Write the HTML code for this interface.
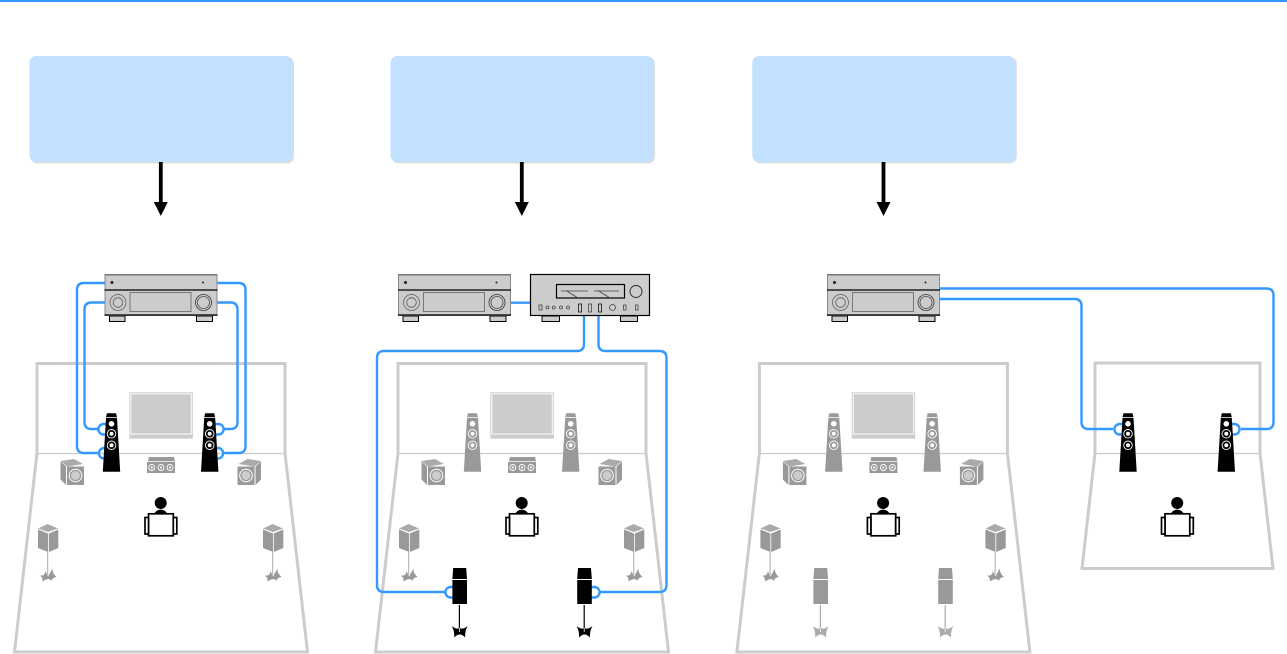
<!DOCTYPE html>
<html><head><meta charset="utf-8"><style>
html,body{margin:0;padding:0;background:#fff;width:1287px;height:654px;overflow:hidden}
svg{display:block}
</style></head><body>
<svg width="1287" height="654" viewBox="0 0 1287 654" xmlns="http://www.w3.org/2000/svg">
<defs>
<g id="box">
<rect x="1" y="1" width="263.500" height="106.500" rx="7" fill="#ddd"/>
<rect x="0" y="0" width="263" height="106" rx="7" fill="#c2e0ff"/>
</g>
<g id="arrow">
<rect x="-1.900" y="0" width="3.800" height="42" fill="#000"/>
<polygon points="-7,40 7,40 0,54" fill="#000"/>
</g>
<g id="rcv">
<rect x="5" y="42" width="15.500" height="5.500" fill="#ccc" stroke="#000" stroke-width="1"/>
<rect x="92" y="42" width="16" height="5.500" fill="#ccc" stroke="#000" stroke-width="1"/>
<rect x="0.500" y="0.500" width="112" height="41" fill="#ccc" stroke="#888" stroke-width="1"/>
<rect x="0" y="0" width="113" height="1.500" fill="#777"/>
<line x1="0" y1="16" x2="113" y2="16" stroke="#000" stroke-width="1.200"/>
<line x1="0" y1="41" x2="113" y2="41" stroke="#000" stroke-width="1.300"/>
<circle cx="13.500" cy="28.500" r="8" fill="none" stroke="#555" stroke-width=".7"/>
<circle cx="13.500" cy="28.500" r="4.800" fill="none" stroke="#555" stroke-width=".8"/>
<circle cx="99" cy="28.500" r="8" fill="none" stroke="#333" stroke-width=".8"/>
<circle cx="99" cy="28.500" r="6" fill="none" stroke="#444" stroke-width=".8"/>
<rect x="25.500" y="18.500" width="61" height="19" fill="#ccc" stroke="#777" stroke-width="1"/>
<circle cx="7.500" cy="8.500" r="1.500" fill="#222"/>
<circle cx="98.500" cy="8.500" r="1" fill="#222"/>
</g>
<g id="room">
<path d="M37 453V363.500H285V453L307.500 652H14.500Z" fill="none" stroke="#ccc" stroke-width="3"/>
<line x1="37" y1="453.500" x2="285" y2="453.500" stroke="#ccc" stroke-width="1.300"/>
<rect x="129.300" y="392.300" width="63.500" height="46.400" fill="#ccc"/>
<rect x="130.800" y="393.800" width="60.500" height="40.300" fill="#ccc" stroke="#fff" stroke-width="1"/>
<use href="#center"/>
<use href="#sub"/>
<use href="#sub" transform="translate(321.500 0) scale(-1 1)"/>
<use href="#surr" x="48"/>
<use href="#surr" x="273"/>
<use href="#listener"/>
</g>
<g id="center">
<polygon points="149,457 174,457 175,461.300 148,461.300" fill="#999"/>
<rect x="147" y="462" width="28" height="11" fill="#999"/>
<circle cx="151.800" cy="467.500" r="3" fill="none" stroke="#fff" stroke-width=".9"/>
<circle cx="161" cy="467.500" r="3" fill="none" stroke="#fff" stroke-width=".9"/>
<circle cx="170" cy="467.500" r="3" fill="none" stroke="#fff" stroke-width=".9"/>
<circle cx="151.800" cy="467.500" r="1.100" fill="#fff"/>
<circle cx="161" cy="467.500" r="1.100" fill="#fff"/>
<circle cx="170" cy="467.500" r="1.100" fill="#fff"/>
</g>
<g id="sub">
<polygon points="60.500,461 74,459 83,464 67,466.500" fill="#aaa"/>
<polygon points="60.500,461.500 66,466.500 66,485 60.500,479.500" fill="#999"/>
<rect x="67" y="466.500" width="17" height="18.500" fill="#999"/>
<circle cx="75.500" cy="475.500" r="6.300" fill="none" stroke="#fff" stroke-width="1"/>
<circle cx="75.500" cy="475.500" r="4.500" fill="#ccc"/>
</g>
<g id="surr">
<polygon points="-10,4.500 -0.500,0 10,4.500 0,8" fill="#aaa" transform="translate(0 524)"/>
<polygon points="-10,5.500 0,9.500 0,28 -10,24" fill="#999" transform="translate(0 524)"/>
<polygon points="0.800,9.500 10.300,5.500 10.300,24 0.800,28" fill="#999" transform="translate(0 524)"/>
<line x1="-0.300" y1="552" x2="-0.300" y2="575" stroke="#aaa" stroke-width="1"/>
<path d="M-8.500 575.500Q-3 576.500 -2.500 571L0 576.500L4.500 568.500Q4 573 8.500 577Q4 577.500 3.500 581Q1 577 -5.500 581.500Q-5 577 -8.500 575.500Z" fill="#999"/>
</g>
<g id="listener">
<circle cx="160.700" cy="503" r="6" fill="#000"/>
<path d="M154 514 Q156 510 160.700 509.500 Q165.500 510 167.500 514Z" fill="#000"/>
<rect x="148.500" y="513.800" width="24.800" height="22" fill="#fff" stroke="#000" stroke-width="1.700"/>
<rect x="145" y="517.500" width="3.500" height="16.500" fill="#fff" stroke="#000" stroke-width="1.700"/>
<rect x="173.300" y="517.500" width="3.500" height="16.500" fill="#fff" stroke="#000" stroke-width="1.700"/>
</g>
<g id="towerB">
<polygon points="-4.500,0 4.500,0 5.500,4 -5.500,4" fill="#000"/>
<polygon points="-5.500,4.700 5.500,4.700 8.700,58.500 -8.700,58.500" fill="#000"/>
<circle cx="0" cy="10.500" r="2.800" fill="#fff"/>
<circle cx="0" cy="20.500" r="4.300" fill="none" stroke="#fff" stroke-width=".9"/>
<circle cx="0" cy="20.500" r="2" fill="#fff"/>
<circle cx="0" cy="32" r="4.300" fill="none" stroke="#fff" stroke-width=".9"/>
<circle cx="0" cy="32" r="2" fill="#fff"/>
</g>
<g id="towerG">
<polygon points="-4.500,0 4.500,0 5.500,4 -5.500,4" fill="#999"/>
<polygon points="-5.500,4.700 5.500,4.700 8.700,58.500 -8.700,58.500" fill="#999"/>
<circle cx="0" cy="10.500" r="2.800" fill="#fff"/>
<circle cx="0" cy="20.500" r="4.300" fill="none" stroke="#fff" stroke-width=".9"/>
<circle cx="0" cy="20.500" r="2" fill="#fff"/>
<circle cx="0" cy="32" r="4.300" fill="none" stroke="#fff" stroke-width=".9"/>
<circle cx="0" cy="32" r="2" fill="#fff"/>
</g>
<path id="star" d="M-8 58Q-3 62 0 60Q3 62 8 58Q5 63 5.500 69.500Q2 66 0 66.500Q-2 66 -5.500 69.500Q-5 63 -8 58Z"/>
<g id="presB">
<polygon points="-6.500,0 6.500,0 7.300,11 -7.300,11" fill="#000"/>
<rect x="-7.300" y="12" width="14.600" height="24" fill="#000"/>
<use href="#star" fill="#000"/>
<line x1="-0.300" y1="37" x2="-0.300" y2="64" stroke="#000" stroke-width="1.200"/>
<line x1="-0.300" y1="60" x2="-0.300" y2="64" stroke="#fff" stroke-width=".8"/>
</g>
<g id="presG">
<polygon points="-6.500,0 6.500,0 7.300,11 -7.300,11" fill="#999"/>
<rect x="-7.300" y="12" width="14.600" height="24" fill="#999"/>
<use href="#star" fill="#aaa"/>
<line x1="-0.300" y1="37" x2="-0.300" y2="64" stroke="#aaa" stroke-width="1.200"/>
<line x1="-0.300" y1="60" x2="-0.300" y2="64" stroke="#fff" stroke-width=".8"/>
</g>
</defs>

<rect x="0" y="0" width="1287" height="2" fill="#3399ff"/>

<use href="#box" x="29.500" y="56"/>
<use href="#box" x="390.500" y="56"/>
<use href="#box" x="752.300" y="56"/>
<use href="#arrow" x="160.800" y="162"/>
<use href="#arrow" x="521.800" y="162"/>
<use href="#arrow" x="883.500" y="162"/>

<!-- Rooms -->
<use href="#room"/>
<use href="#room" x="361"/>
<use href="#room" x="722.400"/>
<path d="M1095 453V363H1260V453L1273 568.500H1082Z" fill="none" stroke="#ccc" stroke-width="3"/>
<line x1="1095" y1="453.500" x2="1260" y2="453.500" stroke="#ccc" stroke-width="1.300"/>
<use href="#listener" x="1016.500"/>

<!-- Cables -->
<g fill="none" stroke="#3399ff" stroke-width="2.400">
<path d="M104.500 283H84Q77 283 77 290V446Q77 453 84 453H100"/>
<path d="M104.500 302.500H91.500Q84.500 302.500 84.500 309.500V422Q84.500 429 91.500 429H98"/>
<path d="M217.500 283H238.500Q245.500 283 245.500 290V446Q245.500 453 238.500 453H223"/>
<path d="M217.500 302.500H230.500Q237.500 302.500 237.500 309.500V422Q237.500 429 230.500 429H224"/>
<path d="M107 424H103A5.300 5.300 0 0 0 103 434.500H107"/>
<path d="M107 448H103.500A5.300 5.300 0 0 0 103.500 458.500H107"/>
<path d="M215 424H219A5.300 5.300 0 0 1 219 434.500H215"/>
<path d="M215 448H218.500A5.300 5.300 0 0 1 218.500 458.500H215"/>

<path d="M511 302.700H530"/>
<path d="M584 316V344Q584 351 577 351H384Q377 351 377 358V585Q377 592 384 592H445"/>
<path d="M598.500 316V344Q598.500 351 605.500 351H659.500Q666.500 351 666.500 358V585Q666.500 592 659.500 592H600"/>
<path d="M455 587H450A5.300 5.300 0 0 0 450 597.500H455"/>
<path d="M590 587H595A5.300 5.300 0 0 1 595 597.500H590"/>

<path d="M940 288.500H1266.500Q1273.500 288.500 1273.500 295.500V422Q1273.500 429 1266.500 429H1241"/>
<path d="M940 299H1074.500Q1081.500 299 1081.500 306V422Q1081.500 429 1088.500 429H1113"/>
<path d="M1123 424H1119A5.300 5.300 0 0 0 1119 434.500H1123"/>
<path d="M1231 424H1235A5.300 5.300 0 0 1 1235 434.500H1231"/>
</g>

<!-- Towers -->
<use href="#towerB" x="111.500" y="413.300"/>
<use href="#towerB" x="209.700" y="413.300"/>
<use href="#towerG" x="472.500" y="413.300"/>
<use href="#towerG" x="570.700" y="413.300"/>
<use href="#towerG" x="833.800" y="413.300"/>
<use href="#towerG" x="932.200" y="413.300"/>
<use href="#towerB" x="1128" y="413.300"/>
<use href="#towerB" x="1226.300" y="413.300"/>

<!-- Presence speakers -->
<use href="#presB" x="459.700" y="568"/>
<use href="#presB" x="584.500" y="568"/>
<use href="#presG" x="820.700" y="568"/>
<use href="#presG" x="945.500" y="568"/>

<!-- Receivers -->
<use href="#rcv" x="104.500" y="274"/>
<use href="#rcv" x="398" y="274"/>
<use href="#rcv" x="827" y="274"/>

<!-- Amplifier -->
<g>
<rect x="542" y="316" width="17.500" height="5.500" fill="#ccc" stroke="#000"/>
<rect x="620.500" y="316" width="17" height="5.500" fill="#ccc" stroke="#000"/>
<rect x="530.500" y="274.500" width="119" height="41" fill="#ccc" stroke="#000" stroke-width="1.200"/>
<rect x="556.500" y="284.500" width="68" height="13.500" fill="#ccc" stroke="#000" stroke-width="1.200"/>
<path d="M561 291H588M566 290.500L578 298M594 291H619M598 290.500L610 298" stroke="#444" stroke-width=".8" fill="none"/>
<circle cx="636" cy="291.500" r="6" fill="none" stroke="#222" stroke-width=".9"/>
<g fill="none" stroke="#444" stroke-width=".8">
<rect x="539" y="305" width="3" height="5"/>
<circle cx="547.500" cy="307.500" r="1.500"/>
<circle cx="553.800" cy="307.500" r="1.500"/>
<circle cx="561" cy="307.500" r="1.500"/>
<circle cx="568" cy="307.500" r="1.500"/>
<rect x="578.500" y="304" width="3" height="8" stroke="#111"/>
<rect x="588.500" y="304" width="3" height="8"/>
<rect x="598.500" y="304" width="3" height="8" stroke="#111"/>
<circle cx="612.500" cy="307.500" r="3"/>
<rect x="623.500" y="305" width="2.500" height="5"/>
<rect x="635.500" y="305" width="2.500" height="5"/>
</g>
</g>
</svg>
</body></html>
